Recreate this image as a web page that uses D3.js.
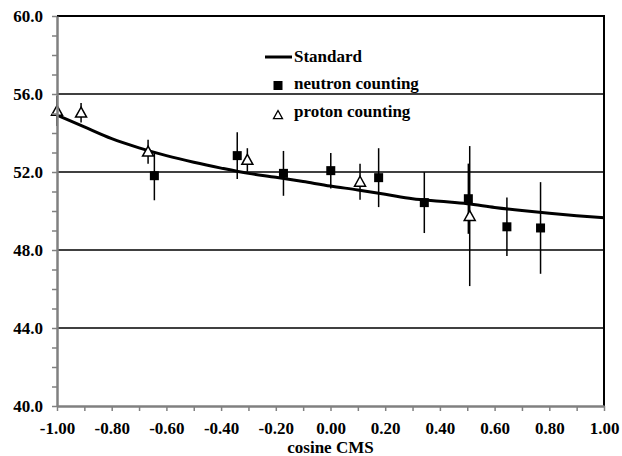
<!DOCTYPE html>
<html><head><meta charset="utf-8">
<script src="https://cdn.jsdelivr.net/npm/d3@7"></script>
</head>
<body style="margin:0;background:#fff">
<svg id="c" width="622" height="456"></svg>
<script>
// Standard curve
const stdCos = [-1.0,-0.9,-0.8,-0.7,-0.6,-0.5,-0.4,-0.3,-0.2,-0.1,0.0,0.1,0.2,0.3,0.4,0.5,0.6,0.7,0.8,0.9,1.0];
const stdVal = [54.92,54.31,53.71,53.24,52.84,52.50,52.20,51.93,51.73,51.51,51.28,51.08,50.86,50.63,50.50,50.37,50.18,50.02,49.88,49.76,49.66];
// neutron counting
const neutronCos = [-0.644,-0.341,-0.172,0.001,0.176,0.343,0.504,0.645,0.768];
const neutronVal = [51.81,52.84,51.93,52.07,51.71,50.43,50.63,49.19,49.13];
const neutronErr = [1.26,1.20,1.15,0.91,1.51,1.56,1.80,1.50,2.35];
// proton counting
const protonCos = [-1.0,-0.912,-0.667,-0.304,0.108,0.509];
const protonVal = [55.13,55.04,53.04,52.62,51.50,49.74];
const protonErr = [0.77,0.50,0.62,0.60,0.92,3.59];
// ticks
const yTicks = d3.range(40,61,1);
const yLabelTicks = [40,44,48,52,56,60];
const yGrid = [44,48,52,56];
const xTicks = d3.range(0,21).map(i=>-1+i*0.1);
const legendLabels = ["Standard","neutron counting","proton counting"];
const xTitle = "cosine CMS";

const FONT = "Liberation Serif";
const svg = d3.select("#c");
const L=57,R=604,T=16,B=406;
const x = d3.scaleLinear().domain([-1,1]).range([L,R]);
const y = d3.scaleLinear().domain([40,60]).range([B,T]);

function txt(sel, size){
  return sel.style("font-family",FONT).style("font-weight","bold").style("font-size",size+"px").attr("fill","#000");
}

// gridlines
svg.append("g").selectAll("line").data(yGrid).join("line")
  .attr("x1",L).attr("x2",R).attr("y1",d=>y(d)).attr("y2",d=>y(d))
  .attr("stroke","#000").attr("stroke-width",1.5);
// top and right border
svg.append("line").attr("x1",L).attr("x2",R+1).attr("y1",y(60)).attr("y2",y(60)).attr("stroke","#000").attr("stroke-width",2);
svg.append("line").attr("x1",R).attr("x2",R).attr("y1",T).attr("y2",B).attr("stroke","#000").attr("stroke-width",2);

// standard curve
const stdData = stdCos.map((c,i)=>[c,stdVal[i]]);
svg.append("path").datum(stdData)
  .attr("d",d3.line().x(d=>x(d[0])).y(d=>y(d[1])).curve(d3.curveMonotoneX))
  .attr("fill","none").attr("stroke","#000").attr("stroke-width",3);

// error bars
const nData = neutronCos.map((c,i)=>({c,v:neutronVal[i],e:neutronErr[i]}));
const pData = protonCos.map((c,i)=>({c,v:protonVal[i],e:protonErr[i]}));
svg.append("g").selectAll("line").data(nData.concat(pData)).join("line")
  .attr("x1",d=>x(d.c)).attr("x2",d=>x(d.c))
  .attr("y1",d=>y(d.v-d.e)).attr("y2",d=>y(d.v+d.e))
  .attr("stroke","#000").attr("stroke-width",1.5);

// markers
const sq = 9;
svg.append("g").selectAll("rect").data(nData).join("rect")
  .attr("x",d=>x(d.c)-sq/2).attr("y",d=>y(d.v)-sq/2).attr("width",sq).attr("height",sq)
  .attr("fill","#000");
const tri = (cx,cy,s)=>`M${cx},${cy-s}L${cx+s},${cy+s*0.8}L${cx-s},${cy+s*0.8}Z`;
svg.append("g").selectAll("path").data(pData).join("path")
  .attr("d",d=>tri(x(d.c),y(d.v),5.5))
  .attr("fill","#fff").attr("stroke","#000").attr("stroke-width",1.5);

// axes
const yAxis = d3.axisLeft(y).tickValues(yTicks).tickSize(5).tickSizeOuter(0).tickPadding(9)
  .tickFormat(d=>yLabelTicks.includes(d)?d.toFixed(1):"");
const gy = svg.append("g").attr("transform",`translate(${L},0)`).call(yAxis);
gy.attr("font-family","Liberation Serif").attr("font-size",17).attr("font-weight","bold");
gy.select(".domain").attr("stroke","#808080").attr("stroke-width",2.5);
gy.selectAll(".tick line").attr("stroke","#808080").attr("stroke-width",1.5);
txt(gy.selectAll("text"),17);

const xAxis = d3.axisBottom(x).tickValues(xTicks).tickSize(5).tickSizeOuter(0).tickPadding(9)
  .tickFormat(d=>Math.round(d*10)%2===0?d.toFixed(2):"");
const gx = svg.append("g").attr("transform",`translate(0,${B})`).call(xAxis);
gx.attr("font-family","Liberation Serif").attr("font-size",17).attr("font-weight","bold");
gx.select(".domain").attr("stroke","#808080").attr("stroke-width",2.5);
gx.selectAll(".tick line").attr("stroke","#808080").attr("stroke-width",1.5);
txt(gx.selectAll("text"),17).attr("dy",null).attr("y",28);

txt(svg.append("text").attr("x",(L+R)/2).attr("y",453).attr("text-anchor","middle"),17).text(xTitle);

// legend
const lg = svg.append("g");
lg.append("line").attr("x1",265).attr("x2",292).attr("y1",57).attr("y2",57).attr("stroke","#000").attr("stroke-width",3);
lg.append("rect").attr("x",273.5).attr("y",81).attr("width",sq).attr("height",sq).attr("fill","#000");
lg.append("path").attr("d",tri(278,115,4.5)).attr("fill","#fff").attr("stroke","#000").attr("stroke-width",1.3);
const ly = [62,89,117];
txt(lg.selectAll("text").data(legendLabels).join("text")
  .attr("x",294).attr("y",(d,i)=>ly[i]),17).text(d=>d);
</script>
</body></html>
